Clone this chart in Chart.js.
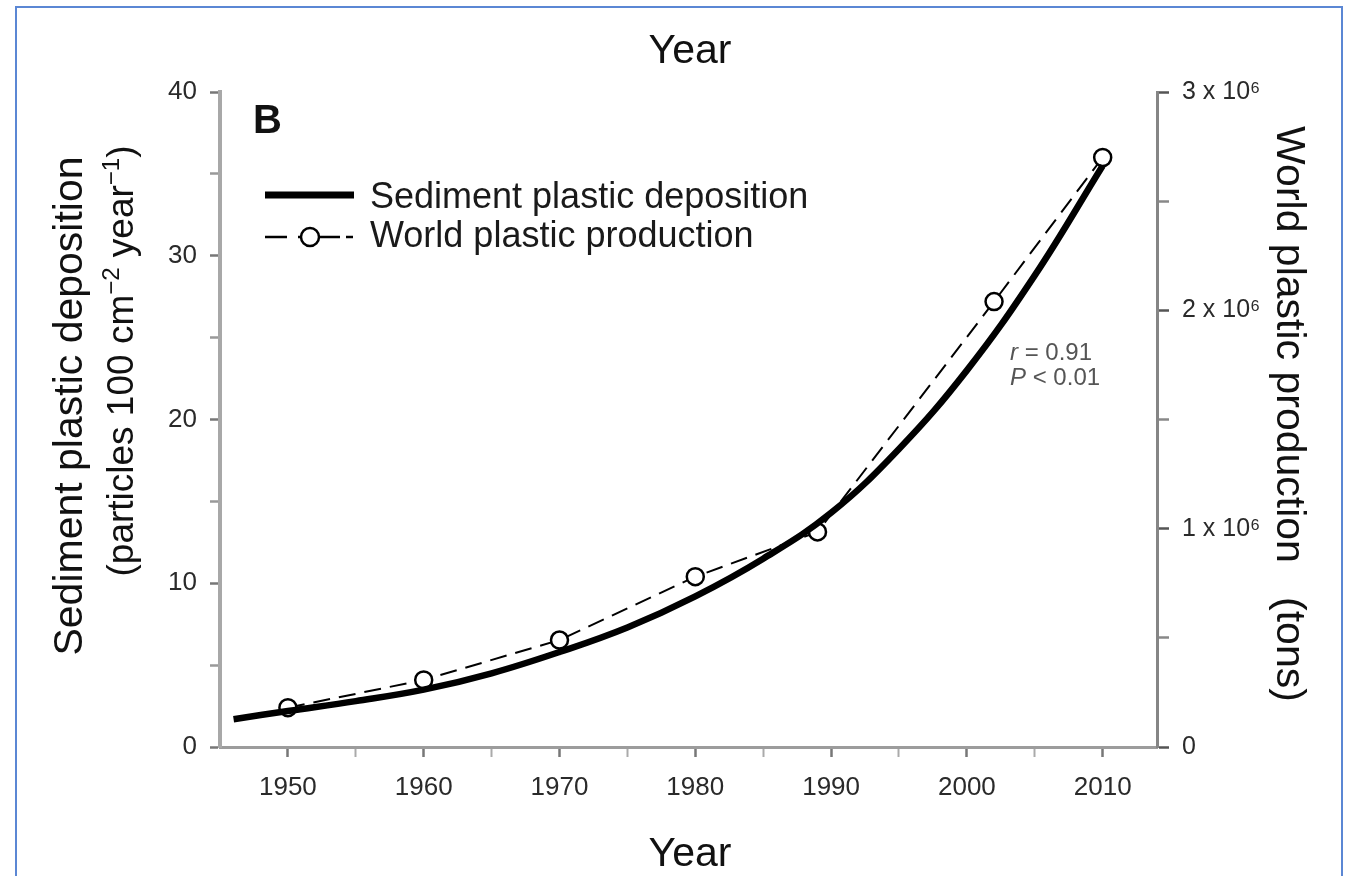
<!DOCTYPE html>
<html>
<head>
<meta charset="utf-8">
<title>Sediment plastic deposition and world plastic production</title>
<script src="https://cdn.jsdelivr.net/npm/chart.js@4.4.1/dist/chart.umd.min.js"></script>
<style>
  html, body { margin: 0; padding: 0; background: #fff; overflow: hidden; }
  #wrap { position: relative; width: 1347px; height: 876px; }
  #frame { position: absolute; left: 15px; top: 6px; width: 1324px; height: 900px;
           border: 2px solid #5b87d4; pointer-events: none; }
</style>
</head>
<body>
<div id="wrap">
  <canvas id="chart" width="1347" height="876"></canvas>
  <div id="frame"></div>
</div>
<script>
// ---- data ----
// solid curve: sediment plastic deposition (particles 100 cm-2 year-1)
const sedimentYears  = [1946, 1950, 1955, 1960, 1965, 1970, 1975, 1980, 1985, 1990, 1995, 2000, 2005, 2010];
const sedimentValues = [1.7, 2.2, 2.8, 3.5, 4.5, 5.8, 7.3, 9.2, 11.5, 14.3, 18.2, 23.0, 28.8, 35.5];

// open circles: world plastic production (tons)
const productionYears = [1950, 1960, 1970, 1980, 1989, 2002, 2010];
const productionTons  = [180000, 307000, 490000, 780000, 985000, 2040000, 2700000];

// axis ticks
const xTickValues   = [1950, 1955, 1960, 1965, 1970, 1975, 1980, 1985, 1990, 1995, 2000, 2005, 2010];
const xLabelYears   = [1950, 1960, 1970, 1980, 1990, 2000, 2010];
const leftTicks     = [0, 5, 10, 15, 20, 25, 30, 35, 40];
const leftLabels    = [0, 10, 20, 30, 40];
const rightTicks    = [0, 500000, 1000000, 1500000, 2000000, 2500000, 3000000];
const rightLabels   = { 0: '0', 1000000: '1 x 10\u2076', 2000000: '2 x 10\u2076', 3000000: '3 x 10\u2076' };

const FONT = '"Liberation Sans", Arial, sans-serif';

// texts that sit around / inside the plot
const figureText = {
  id: 'figureText',
  afterDraw(chart) {
    const ctx = chart.ctx;
    ctx.save();
    ctx.fillStyle = '#111';
    ctx.textBaseline = 'alphabetic';

    // "Year" above and below
    ctx.font = `41px ${FONT}`;
    ctx.textAlign = 'center';
    ctx.fillText('Year', 690, 63);
    ctx.fillText('Year', 690, 866);

    // panel letter
    ctx.font = `bold 40px ${FONT}`;
    ctx.textAlign = 'left';
    ctx.fillText('B', 253, 133);

    // left title, line 1
    ctx.save();
    ctx.translate(82, 406);
    ctx.rotate(-Math.PI / 2);
    ctx.textAlign = 'center';
    ctx.font = `41px ${FONT}`;
    ctx.fillText('Sediment plastic deposition', 0, 0);
    ctx.restore();

    // left title, line 2 with superscripts
    const parts = [
      { t: '(particles 100 cm', sup: false },
      { t: '\u22122', sup: true },
      { t: ' year', sup: false },
      { t: '\u22121', sup: true },
      { t: ')', sup: false }
    ];
    ctx.save();
    ctx.translate(133, 361);
    ctx.rotate(-Math.PI / 2);
    ctx.textAlign = 'left';
    let total = 0;
    parts.forEach(p => {
      ctx.font = p.sup ? `24px ${FONT}` : `37px ${FONT}`;
      p.w = ctx.measureText(p.t).width;
      total += p.w;
    });
    let px = -total / 2;
    parts.forEach(p => {
      ctx.font = p.sup ? `24px ${FONT}` : `37px ${FONT}`;
      ctx.fillText(p.t, px, p.sup ? -14 : 0);
      px += p.w;
    });
    ctx.restore();

    // right title
    ctx.save();
    ctx.translate(1277, 414);
    ctx.rotate(Math.PI / 2);
    ctx.textAlign = 'center';
    ctx.font = `41px ${FONT}`;
    ctx.fillText('World plastic production   (tons)', 0, 0);
    ctx.restore();

    // legend
    const ds = chart.data.datasets;
    ctx.strokeStyle = ds[0].borderColor;
    ctx.lineWidth = 7;
    ctx.beginPath();
    ctx.moveTo(265, 195);
    ctx.lineTo(354, 195);
    ctx.stroke();

    ctx.lineWidth = 2.5;
    ctx.strokeStyle = ds[1].borderColor;
    [[265, 287], [298, 340], [346, 353]].forEach(([a, b]) => {
      ctx.beginPath();
      ctx.moveTo(a, 237);
      ctx.lineTo(b, 237);
      ctx.stroke();
    });
    ctx.beginPath();
    ctx.arc(310, 237, 9, 0, Math.PI * 2);
    ctx.fillStyle = '#fff';
    ctx.fill();
    ctx.stroke();

    ctx.fillStyle = '#1a1a1a';
    ctx.font = `36px ${FONT}`;
    ctx.fillText(ds[0].label, 370, 208);
    ctx.fillText(ds[1].label, 370, 247);

    // correlation note
    ctx.fillStyle = '#555';
    ctx.font = `italic 24px ${FONT}`;
    ctx.fillText('r', 1010, 360);
    ctx.fillText('P', 1010, 385);
    const rw = ctx.measureText('r').width;
    const pw = ctx.measureText('P').width;
    ctx.font = `24px ${FONT}`;
    ctx.fillText(' = 0.91', 1010 + rw, 360);
    ctx.fillText(' < 0.01', 1010 + pw, 385);

    ctx.restore();
  }
};

const isMajor = (list) => (c) => c.tick && list.includes(c.tick.value);

new Chart(document.getElementById('chart'), {
  type: 'line',
  data: {
    datasets: [
      {
        label: 'Sediment plastic deposition',
        data: sedimentYears.map((x, i) => ({ x, y: sedimentValues[i] })),
        yAxisID: 'y',
        borderColor: '#000',
        borderWidth: 6.5,
        pointRadius: 0,
        tension: 0.4,
        fill: false
      },
      {
        label: 'World plastic production',
        data: productionYears.map((x, i) => ({ x, y: productionTons[i] })),
        yAxisID: 'y2',
        borderColor: '#000',
        borderWidth: 2,
        borderDash: [17, 9],
        tension: 0,
        pointRadius: 8.5,
        pointBorderWidth: 2.5,
        pointBackgroundColor: '#fff',
        pointBorderColor: '#000',
        fill: false
      }
    ]
  },
  options: {
    responsive: false,
    animation: false,
    devicePixelRatio: 1,
    layout: { padding: { top: 92, left: 0, right: 0, bottom: 0 } },
    plugins: { legend: { display: false }, tooltip: { enabled: false } },
    scales: {
      x: {
        type: 'linear',
        position: 'bottom',
        min: 1945,
        max: 2014,
        afterBuildTicks: s => { s.ticks = xTickValues.map(value => ({ value })); },
        afterFit: s => { s.height = 129; },
        border: { color: '#9c9c9c', width: 3 },
        grid: {
          drawOnChartArea: false,
          tickLength: 10,
          tickColor: c => isMajor(xLabelYears)(c) ? '#777' : '#aaa',
          tickWidth: c => isMajor(xLabelYears)(c) ? 2.5 : 2
        },
        ticks: {
          autoSkip: false,
          maxRotation: 0,
          padding: 15,
          color: '#2a2a2a',
          font: { family: FONT, size: 26 },
          callback: v => xLabelYears.includes(v) ? String(v) : ''
        }
      },
      y: {
        type: 'linear',
        position: 'left',
        min: 0,
        max: 40,
        afterBuildTicks: s => { s.ticks = leftTicks.map(value => ({ value })); },
        afterFit: s => { s.width = 220; },
        border: { color: '#a8a8a8', width: 4 },
        grid: {
          drawOnChartArea: false,
          tickLength: 10,
          tickColor: c => isMajor(leftLabels)(c) ? '#777' : '#999',
          tickWidth: 2.5
        },
        ticks: {
          padding: 13,
          color: '#2a2a2a',
          font: { family: FONT, size: 26 },
          callback: v => leftLabels.includes(v) ? String(v) : ''
        }
      },
      y2: {
        type: 'linear',
        position: 'right',
        min: 0,
        max: 3000000,
        afterBuildTicks: s => { s.ticks = rightTicks.map(value => ({ value })); },
        afterFit: s => { s.width = 190; },
        border: { color: '#858585', width: 3 },
        grid: {
          drawOnChartArea: false,
          tickLength: 12,
          tickColor: c => (c.tick && rightLabels[c.tick.value] !== undefined) ? '#555' : '#888',
          tickWidth: 2.5
        },
        ticks: {
          padding: 13,
          color: '#2a2a2a',
          font: { family: FONT, size: 25 },
          callback: v => rightLabels[v] !== undefined ? rightLabels[v] : ''
        }
      }
    }
  },
  plugins: [figureText]
});
</script>
</body>
</html>
